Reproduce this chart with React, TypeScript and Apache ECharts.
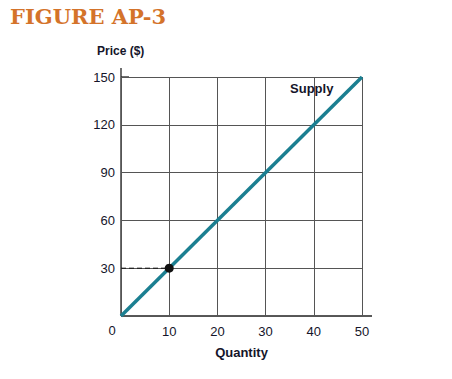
import React, { useEffect, useRef } from "react";
import * as echarts from "echarts";

const quantityTicks = [0, 10, 20, 30, 40, 50];
const priceTicks = [0, 30, 60, 90, 120, 150];
const supplyData: [number, number][] = [
  [0, 0],
  [50, 150],
];
const markedPoint: [number, number] = [10, 30];

const FONT = "'Liberation Sans', Arial, sans-serif";
const TEXT = "#15152a";

export default function App() {
  const ref = useRef<HTMLDivElement>(null);
  useEffect(() => {
    if (!ref.current) return;
    const chart = echarts.init(ref.current, null, { renderer: "svg" });
    const gridL = 121, gridT = 77, gridR = 90, gridB = 63;
    const H = 379;
    chart.setOption({
      animation: false,
      backgroundColor: "#ffffff",
      grid: { left: gridL, top: gridT, right: gridR, bottom: gridB },
      xAxis: {
        type: "value",
        min: quantityTicks[0],
        max: quantityTicks[quantityTicks.length - 1],
        interval: 10,
        axisLine: { show: false },
        axisTick: { show: false },
        splitLine: { show: true, lineStyle: { color: "#555", width: 1 } },
        axisLabel: {
          color: TEXT,
          fontFamily: FONT,
          fontSize: 13,
          margin: 9,
          formatter: (v: number) => (v === 0 ? "" : String(v)),
        },
        name: "Quantity",
        nameLocation: "middle",
        nameGap: 30,
        nameTextStyle: { color: TEXT, fontFamily: FONT, fontSize: 13, fontWeight: "bold" },
      },
      yAxis: {
        type: "value",
        min: priceTicks[0],
        max: priceTicks[priceTicks.length - 1],
        interval: 30,
        axisLine: { show: false },
        axisTick: { show: false },
        splitLine: { show: true, lineStyle: { color: "#555", width: 1 } },
        axisLabel: {
          color: TEXT,
          fontFamily: FONT,
          fontSize: 13,
          margin: 6,
          formatter: (v: number) => (v === 0 ? "" : String(v)),
        },
      },
      graphic: [
        {
          type: "text",
          left: 10,
          top: 6,
          style: {
            text: "FIGURE AP-3",
            fill: "#d4732a",
            font: "bold 21px 'DejaVu Serif', serif",
          },
        },
        {
          type: "text",
          left: 97,
          top: 45,
          style: { text: "Price ($)", fill: TEXT, font: `bold 12px ${FONT}` },
        },
        {
          type: "text",
          x: 112,
          y: 330,
          style: { text: "0", fill: TEXT, font: `13px ${FONT}`, align: "center", verticalAlign: "middle" },
        },
        {
          type: "line",
          shape: { x1: gridL, y1: H - gridB, x2: gridL, y2: 68 },
          style: { stroke: "#222", lineWidth: 1.3 },
        },
        {
          type: "line",
          shape: { x1: gridL, y1: H - gridB, x2: 372, y2: H - gridB },
          style: { stroke: "#222", lineWidth: 1.3 },
        },
        {
          type: "line",
          shape: { x1: gridL, y1: gridT, x2: gridL + 8, y2: gridT },
          style: { stroke: "#222", lineWidth: 1.3 },
        },
      ],
      series: [
        {
          type: "line",
          data: supplyData,
          symbol: "none",
          lineStyle: { color: "#1b7f91", width: 3.5 },
          z: 3,
        },
        {
          type: "line",
          data: [[0, markedPoint[1]], markedPoint],
          symbol: "none",
          lineStyle: { color: "#111", width: 1, type: [5, 3] },
          z: 2,
        },
        {
          type: "scatter",
          data: [markedPoint],
          symbol: "circle",
          symbolSize: 9,
          itemStyle: { color: "#111", opacity: 1 },
          z: 4,
        },
        {
          type: "scatter",
          data: [[35, 147]],
          symbolSize: 0,
          itemStyle: { opacity: 1 },
          label: {
            show: true,
            formatter: "Supply",
            position: "inside",
            offset: [22, 7],
            color: TEXT,
            opacity: 1,
            fontFamily: FONT,
            fontSize: 13,
            fontWeight: "bold",
          },
          z: 5,
        },
      ],
    });
    return () => chart.dispose();
  }, []);
  return <div ref={ref} style={{ width: 452, height: 379, position: "absolute", left: 0, top: 0 }} />;
}
